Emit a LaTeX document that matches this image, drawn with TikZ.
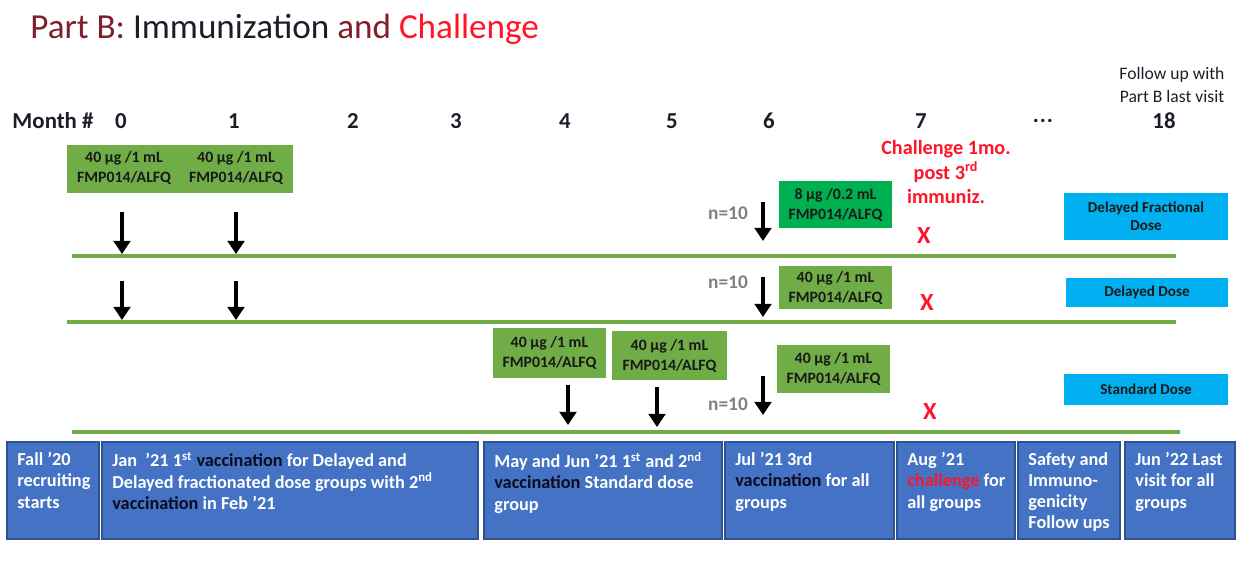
\documentclass[tikz,border=0pt]{standalone}
\usepackage{fontspec}
\setmainfont{Carlito}
\usetikzlibrary{arrows.meta,fit}

\definecolor{dosegreen}{HTML}{70AD47}
\definecolor{fracgreen}{HTML}{00B050}
\definecolor{groupblue}{HTML}{00B0F0}
\definecolor{stageblue}{HTML}{4472C4}
\definecolor{stageedge}{RGB}{47,82,143}
\definecolor{maroon}{RGB}{128,30,45}
\definecolor{ink}{RGB}{30,28,40}
\definecolor{chalred}{RGB}{255,20,40}
\definecolor{vaccink}{RGB}{12,12,30}

\tikzset{
  track/.style={dosegreen, line width=2.4pt},
  vacc/.style={-{Triangle[width=9.5pt,length=7.5pt]}, line width=1.8pt, black},
  dose/.style={fill=dosegreen, inner sep=0pt},
  dosetxt/.style={align=center, inner sep=0pt, text=black!90,
    font=\fontsize{9}{11.4}\selectfont\bfseries},
  group/.style={fill=groupblue, inner sep=0pt},
  grouptxt/.style={align=center, inner sep=0pt, text=black!90,
    font=\fontsize{8.6}{10.2}\selectfont\bfseries},
  stage/.style={fill=stageblue, draw=stageedge, line width=0.6pt, inner sep=0pt},
  stagetxt/.style={anchor=north west, align=left, inner sep=0pt, text=white,
    font=\fontsize{10.4}{12.1}\selectfont\bfseries},
  month/.style={text=ink, font=\fontsize{13}{15}\selectfont\bfseries},
  count/.style={text=gray, font=\fontsize{11}{13}\selectfont\bfseries},
  cross/.style={text=chalred, font=\fontsize{14}{16}\selectfont\bfseries}
}

\newcommand{\vac}{\textcolor{vaccink}{vaccination}}

\begin{document}
\begin{tikzpicture}[x=0.02cm, y=-0.02cm]
  \useasboundingbox (0,0) rectangle (1241,584);

  % Title
  \node[anchor=base west, inner sep=0pt, font=\fontsize{20}{22}\selectfont] (title) at (30,39)
    {\textcolor{maroon}{Part B:} \textcolor{ink}{Immunization} \textcolor{maroon}{and} \textcolor{chalred}{Challenge}};

  % Month axis
  \node[month] (mlab) at (53,121) {Month \#};
  \foreach \m/\x in {0/121,1/234,2/353,3/456,4/565,5/672,6/769,7/921,18/1164}
    \node[month] (m\m) at (\x,121) {\m};
  \node[month] (mdots) at (1043,121) {.\kern0.5pt.\kern0.5pt.};
  \node[align=center, text=ink, font=\fontsize{10}{13.6}\selectfont] (follow) at (1172,85)
    {Follow up with\\Part B last visit};

  % Group tracks
  \coordinate (l1a) at (72,256);  \coordinate (l1b) at (1176,256);
  \coordinate (l2a) at (67,322);  \coordinate (l2b) at (1176,322);
  \coordinate (l3a) at (72,432);  \coordinate (l3b) at (1180,432);
  \draw[track] (l1a) -- (l1b);
  \draw[track] (l2a) -- (l2b);
  \draw[track] (l3a) -- (l3b);

  % Doses
  \node[dose, fit={(67,145) (293,193)}] (d01) {};
  \node[dosetxt] (d0) at (124,168) {40 µg /1 mL\\FMP014/ALFQ};
  \node[dosetxt] (d1) at (236,168) {40 µg /1 mL\\FMP014/ALFQ};

  \node[dose, fill=fracgreen, fit={(779,181) (892,228)}] (d6a) {};
  \node[dosetxt] (d6at) at (d6a) {8 µg /0.2 mL\\FMP014/ALFQ};
  \node[dose, fit={(779,266) (892,309)}] (d6b) {};
  \node[dosetxt] (d6bt) at (d6b) {40 µg /1 mL\\FMP014/ALFQ};

  \node[dose, fit={(493,328) (606,378)}] (d4) {};
  \node[dosetxt] (d4t) at (d4) {40 µg /1 mL\\FMP014/ALFQ};
  \node[dose, fit={(612,331) (727,380)}] (d5) {};
  \node[dosetxt] (d5t) at (d5) {40 µg /1 mL\\FMP014/ALFQ};
  \node[dose, fit={(777,345) (890,393)}] (d6c) {};
  \node[dosetxt] (d6ct) at (d6c) {40 µg /1 mL\\FMP014/ALFQ};

  % Vaccination arrows
  \foreach \n/\x/\ya/\yb in {a/122/212/254, b/236/212/254, c/122/281/320, d/236/281/320,
      e/568/385/425, f/657/387/427, g/763/202/241, h/763/277/317, i/763/376/415} {
    \coordinate (t\n) at (\x,\ya);
    \coordinate (h\n) at (\x,\yb);
    \draw[vacc] (t\n) -- (h\n);
  }

  \node[count] (n1) at (728,213) {n=10};
  \node[count] (n2) at (728,282) {n=10};
  \node[count] (n3) at (728,404) {n=10};

  % Challenge
  \node[align=center, text=chalred, font=\fontsize{11.5}{14}\selectfont\bfseries] (chal) at (946,172)
    {Challenge 1mo.\\post 3\textsuperscript{rd}\\immuniz.};
  \node[cross] (x1) at (924,236) {X};
  \node[cross] (x2) at (927,303) {X};
  \node[cross] (x3) at (930,412) {X};

  % Group names
  \node[group, fit={(1064,193) (1228,240)}] (g1) {};
  \node[grouptxt] (g1t) at (g1) {Delayed Fractional\\Dose};
  \node[group, fit={(1066,278) (1228,307)}] (g2) {};
  \node[grouptxt] (g2t) at (g2) {Delayed Dose};
  \node[group, fit={(1064,374) (1228,405)}] (g3) {};
  \node[grouptxt] (g3t) at (g3) {Standard Dose};

  % Calendar
  \node[stage, fit={(7,442) (99,539)}] (s1) {};
  \node[stage, fit={(102,442) (478,539)}] (s2) {};
  \node[stage, fit={(484,442) (722,539)}] (s3) {};
  \node[stage, fit={(725,442) (894,539)}] (s4) {};
  \node[stage, fit={(897,442) (1015,539)}] (s5) {};
  \node[stage, fit={(1018,442) (1120,539)}] (s6) {};
  \node[stage, fit={(1125,442) (1235,539)}] (s7) {};
  \node[stagetxt] (s1t) at (17,452) {Fall ’20\\recruiting\\starts};
  \node[stagetxt] (s2t) at (112,452) {Jan \ ’21 1\textsuperscript{st} \vac{} for Delayed and\\Delayed fractionated dose groups with 2\textsuperscript{nd}\\\vac{} in Feb ’21};
  \node[stagetxt] (s3t) at (494,452) {May and Jun ’21 1\textsuperscript{st} and 2\textsuperscript{nd}\\\vac{} Standard dose\\group};
  \node[stagetxt] (s4t) at (735,452) {Jul ’21 3rd\\\vac{} for all\\groups};
  \node[stagetxt] (s5t) at (907,452) {Aug ’21\\\textcolor{chalred}{challenge} for\\all groups};
  \node[stagetxt] (s6t) at (1028,452) {Safety and\\Immuno-\\genicity\\Follow ups};
  \node[stagetxt] (s7t) at (1135,452) {Jun ’22 Last\\visit for all\\groups};
\end{tikzpicture}
\end{document}
